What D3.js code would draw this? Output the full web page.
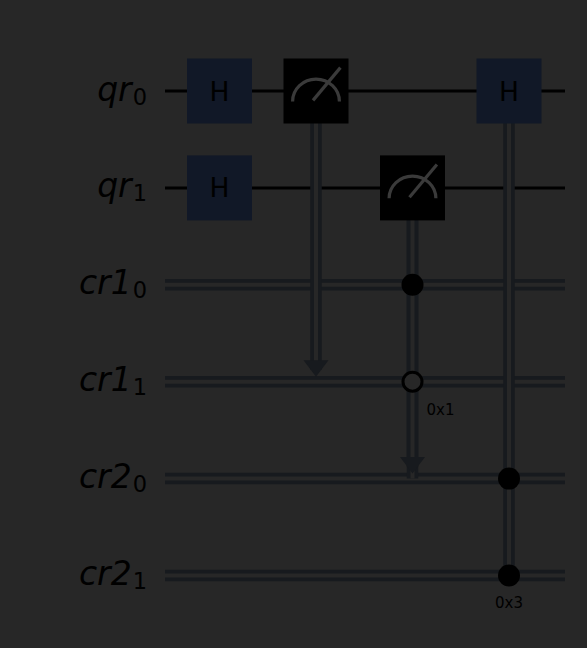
<!DOCTYPE html>
<html>
<head>
<meta charset="utf-8">
<script src="https://cdn.jsdelivr.net/npm/d3@7"></script>
<style>
  html, body { margin: 0; padding: 0; background: #272727; }
  svg { display: block; }
</style>
</head>
<body>
<svg id="chart" width="587" height="648"></svg>
<script>
// wires, top to bottom
const wireNames = ["qr", "qr", "cr1", "cr1", "cr2", "cr2"];
const wireIndex = [0, 1, 0, 1, 0, 1];
const wireKind = ["q", "q", "c", "c", "c", "c"];

// gates: column, wire
const hGates = [{col: 0, wire: 0}, {col: 0, wire: 1}, {col: 3, wire: 0}];
const measures = [{col: 1, wire: 0, target: 3}, {col: 2, wire: 1, target: 4}];
// classical conditions: control bits (1 = filled dot, 0 = open dot), value label
const conditions = [
  {col: 2, wires: [2, 3], bits: [1, 0], label: "0x1", from: 1, to: 4},
  {col: 3, wires: [4, 5], bits: [1, 1], label: "0x3", from: 0, to: 5}
];

const bg = "#272727", wireCol = "#000", cwireCol = "#171a1e",
  hFill = "#111827", boxSize = 65;

const svg = d3.select("#chart");
svg.append("rect").attr("width", 587).attr("height", 648).attr("fill", bg);

const x = d3.scaleLinear().domain([0, 3]).range([219.5, 509]);
const y = d3.scaleLinear().domain([0, 5]).range([91, 575.5]);
const wx0 = 165, wx1 = 565;

// double line helper
function dbl(g, x1, y1, x2, y2) {
  g.append("line").attr("x1", x1).attr("y1", y1).attr("x2", x2).attr("y2", y2)
    .attr("stroke", cwireCol).attr("stroke-width", 11.5);
  g.append("line").attr("x1", x1).attr("y1", y1).attr("x2", x2).attr("y2", y2)
    .attr("stroke", bg).attr("stroke-width", 4);
}

// wire labels
const labels = svg.append("g");
wireNames.forEach((name, i) => {
  const t = labels.append("text")
    .attr("x", 147).attr("y", y(i) + 9.5)
    .attr("text-anchor", "end")
    .attr("font-family", "DejaVu Sans")
    .attr("fill", "#000");
  t.append("tspan").attr("font-size", 33).attr("font-style", "italic").text(name);
  t.append("tspan").attr("font-size", 22.5).attr("dy", 4).attr("dx", 1).text(wireIndex[i]);
});

// wires
const wires = svg.append("g");
wireKind.forEach((k, i) => {
  if (k === "q") {
    wires.append("line").attr("x1", wx0).attr("x2", wx1)
      .attr("y1", y(i)).attr("y2", y(i))
      .attr("stroke", wireCol).attr("stroke-width", 3);
  } else {
    dbl(wires, wx0, y(i), wx1, y(i));
  }
});

// vertical classical links
const links = svg.append("g");
measures.forEach(m => dbl(links, x(m.col), y(m.wire), x(m.col), y(m.target) - 12));
conditions.forEach(c => dbl(links, x(c.col), y(c.from), x(c.col), y(c.to)));

// arrows of measurements
measures.forEach(m => {
  const cx = x(m.col), ty = y(m.target) - 5;
  links.append("path")
    .attr("d", `M${cx - 12.5},${ty - 16.5}L${cx + 12.5},${ty - 16.5}L${cx},${ty}Z`)
    .attr("fill", cwireCol);
});

// H gates
const gates = svg.append("g");
hGates.forEach(g => {
  gates.append("rect")
    .attr("x", x(g.col) - boxSize / 2).attr("y", y(g.wire) - boxSize / 2)
    .attr("width", boxSize).attr("height", boxSize).attr("fill", hFill);
  gates.append("text")
    .attr("x", x(g.col)).attr("y", y(g.wire) + 9.5)
    .attr("text-anchor", "middle")
    .attr("font-family", "DejaVu Sans").attr("font-size", 26.5)
    .attr("fill", "#000").text("H");
});

// measurement boxes
measures.forEach(m => {
  const cx = x(m.col), cy = y(m.wire), r = boxSize * 0.36, ay = cy + boxSize * 0.16;
  gates.append("rect")
    .attr("x", cx - boxSize / 2).attr("y", cy - boxSize / 2)
    .attr("width", boxSize).attr("height", boxSize).attr("fill", "#000");
  gates.append("path")
    .attr("d", `M${cx - r},${ay}A${r},${r * 0.95} 0 0 1 ${cx + r},${ay}`)
    .attr("fill", "none").attr("stroke", "#3a3a3a").attr("stroke-width", 3.2);
  gates.append("line")
    .attr("x1", cx - 3).attr("y1", ay - 1)
    .attr("x2", cx + r + 1).attr("y2", cy - boxSize * 0.36)
    .attr("stroke", "#3a3a3a").attr("stroke-width", 3.2);
});

// condition dots and values
conditions.forEach(c => {
  c.wires.forEach((w, j) => {
    gates.append("circle")
      .attr("cx", x(c.col)).attr("cy", y(w))
      .attr("r", c.bits[j] ? 11 : 9.5)
      .attr("fill", c.bits[j] ? "#000" : bg)
      .attr("stroke", "#000").attr("stroke-width", c.bits[j] ? 0 : 3);
  });
  const last = c.wires[c.wires.length - 1];
  const lbl = gates.append("text")
    .attr("font-family", "DejaVu Sans").attr("font-size", 15)
    .attr("fill", "#000").text(c.label);
  if (c.col === 3) {
    lbl.attr("x", x(c.col)).attr("y", y(last) + 32).attr("text-anchor", "middle");
  } else {
    lbl.attr("x", x(c.col) + 14).attr("y", y(last) + 33);
  }
});
</script>
</body>
</html>
